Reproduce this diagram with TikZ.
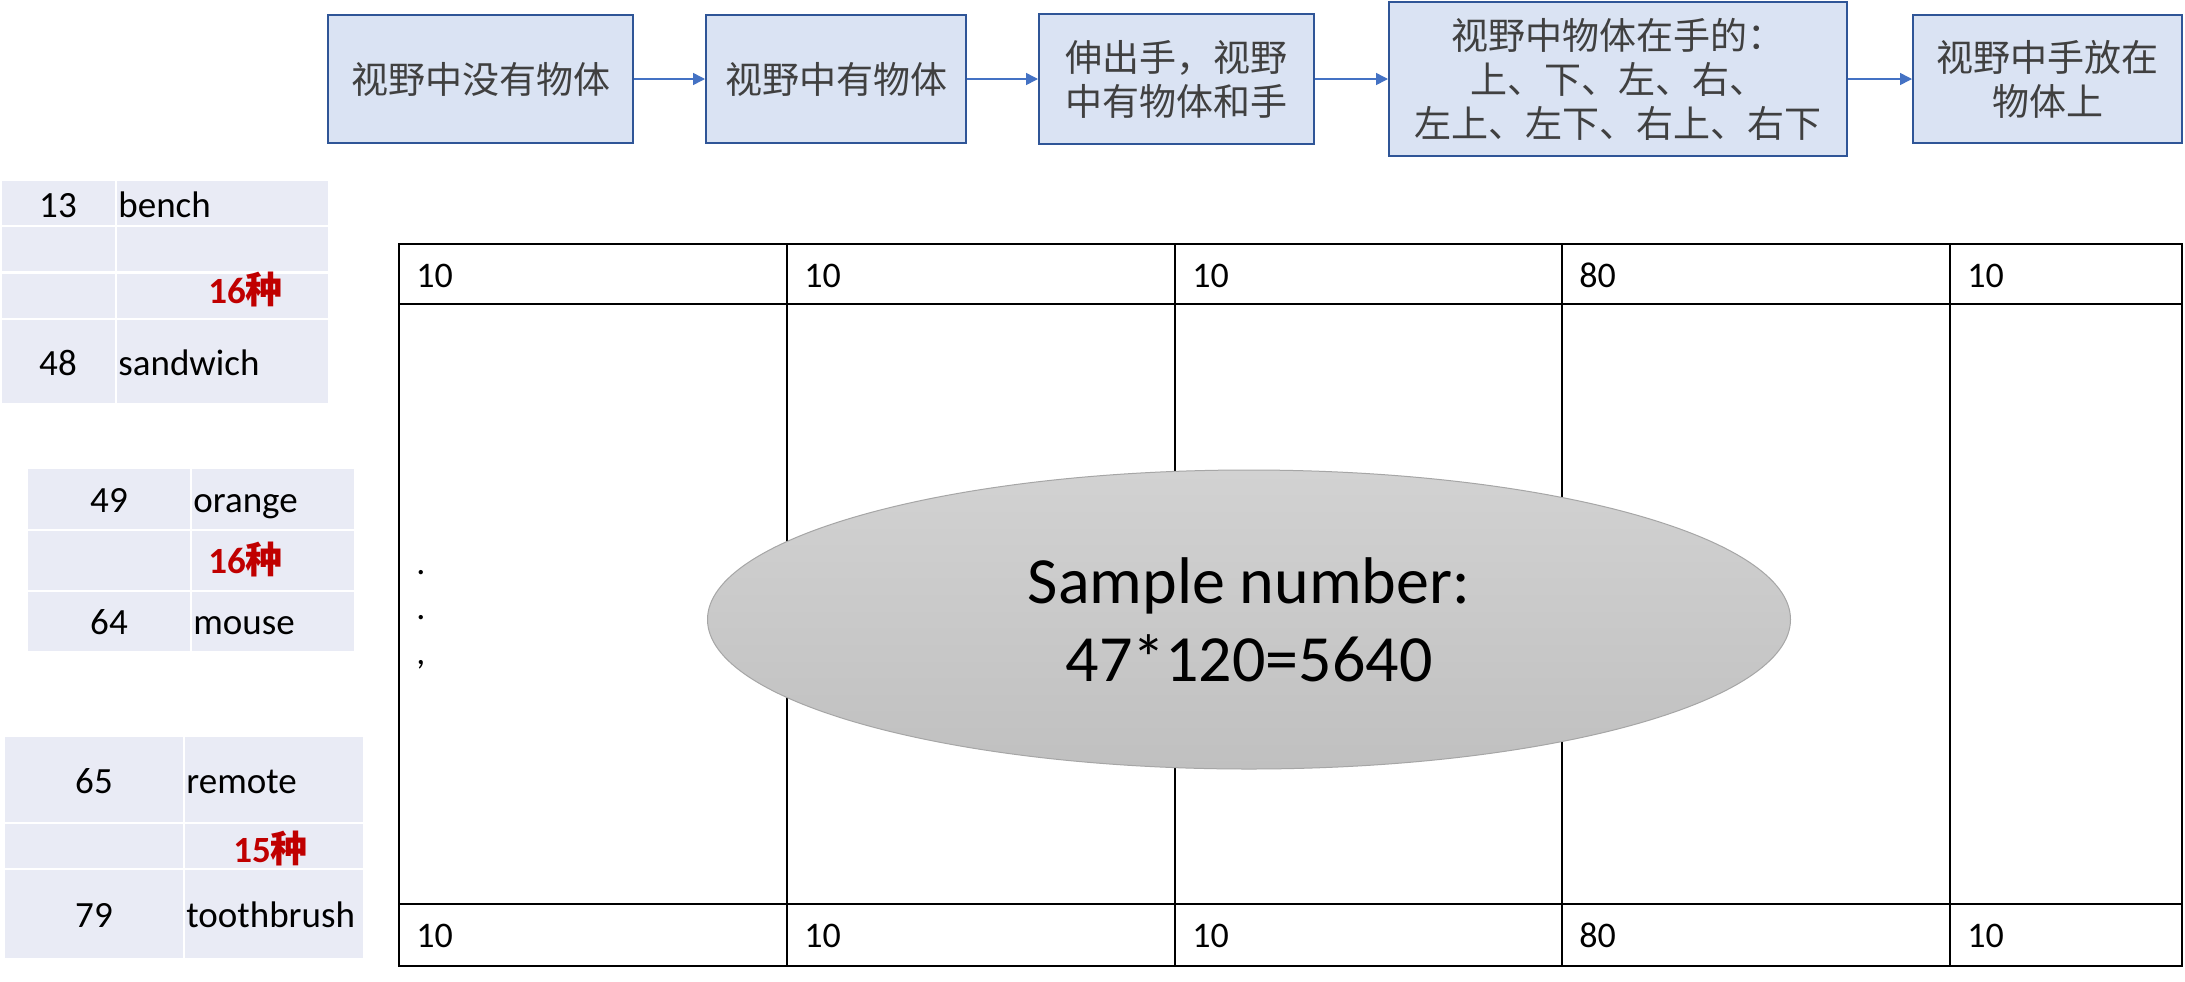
\documentclass[tikz,border=0pt]{standalone}
\usepackage{fontspec}
\setmainfont{Carlito}
\newfontfamily\cjk{Noto Sans CJK SC}
\usetikzlibrary{arrows.meta,shapes.geometric}
\definecolor{boxfill}{HTML}{DAE3F3}
\definecolor{boxdraw}{HTML}{2F5597}
\definecolor{arrowblue}{HTML}{4472C4}
\definecolor{cellfill}{HTML}{E9EBF5}
\definecolor{redtxt}{HTML}{C00000}
\definecolor{boxtxt}{HTML}{404040}
\definecolor{ellborder}{HTML}{A6A6A6}
\definecolor{elltop}{HTML}{D2D2D2}
\definecolor{ellbot}{HTML}{C0C0C0}
\begin{document}
\begin{tikzpicture}[x=0.5pt,y=-0.5pt,
  flowbox/.style={draw=boxdraw, line width=1pt, fill=boxfill, inner sep=0pt,
    align=center, text=boxtxt, font=\cjk\fontsize{18.5pt}{22pt}\selectfont},
  flowarrow/.style={draw=arrowblue, line width=0.75pt, -{Triangle[length=6pt,width=6pt]}},
  celltxt/.style={inner sep=0pt, font=\fontsize{18.5pt}{22pt}\selectfont},
  count/.style={inner sep=0pt, text=redtxt, font=\bfseries\fontsize{18.5pt}{22pt}\selectfont},
  tabtxt/.style={inner sep=0pt, anchor=base west, font=\fontsize{18pt}{22pt}\selectfont},
  grid/.style={draw=black, line width=1pt},
  samplebox/.style={ellipse, inner sep=0pt, draw=ellborder, line width=0.5pt,
    top color=elltop, bottom color=ellbot, align=center,
    font=\fontsize{33pt}{39pt}\selectfont}
]
\useasboundingbox (0,0) rectangle (2185,981);
\fill[white] (0,0) rectangle (2185,981);

% ---- flow boxes ----
\node[flowbox, minimum width=305*0.5pt, minimum height=128*0.5pt] (b1) at (480.5,79) {视野中没有物体};
\node[flowbox, minimum width=260*0.5pt, minimum height=128*0.5pt] (b2) at (836,79) {视野中有物体};
\node[flowbox, minimum width=275*0.5pt, minimum height=130*0.5pt] (b3) at (1176.5,79) {伸出手，视野\\中有物体和手};
\node[flowbox, minimum width=458*0.5pt, minimum height=154*0.5pt] (b4) at (1618,79) {视野中物体在手的：\\上、下、左、右、\\左上、左下、右上、右下};
\node[flowbox, minimum width=269*0.5pt, minimum height=128*0.5pt] (b5) at (2047.5,79) {视野中手放在\\物体上};
\draw[flowarrow] (b1.east) -- (b2.west);
\draw[flowarrow] (b2.east) -- (b3.west);
\draw[flowarrow] (b3.east) -- (b4.west);
\draw[flowarrow] (b4.east) -- (b5.west);

% ---- left tables ----
\foreach \ya/\yb in {181/225,227/271,274/318,320/403}{
  \fill[cellfill] (2,\ya) rectangle (115,\yb);
  \fill[cellfill] (117,\ya) rectangle (328,\yb);
}
\foreach \ya/\yb in {469/529,531/590,592/651}{
  \fill[cellfill] (28,\ya) rectangle (190,\yb);
  \fill[cellfill] (192,\ya) rectangle (354,\yb);
}
\foreach \ya/\yb in {737/822,824/868,870/958}{
  \fill[cellfill] (5,\ya) rectangle (183,\yb);
  \fill[cellfill] (185,\ya) rectangle (363,\yb);
}
\node[celltxt, anchor=base] (t1a) at (58,217) {13};
\node[celltxt, anchor=base west] (t1b) at (118,217) {bench};
\node[count, anchor=base west] (t1c) at (208,303) {16{\cjk 种}};
\node[celltxt, anchor=base] (t1d) at (58,375) {48};
\node[celltxt, anchor=base west] (t1e) at (118,375) {sandwich};

\node[celltxt, anchor=base] (t2a) at (109,512) {49};
\node[celltxt, anchor=base west] (t2b) at (193,512) {orange};
\node[count, anchor=base west] (t2c) at (208,573) {16{\cjk 种}};
\node[celltxt, anchor=base] (t2d) at (109,634) {64};
\node[celltxt, anchor=base west] (t2e) at (193,634) {mouse};

\node[celltxt, anchor=base] (t3a) at (94,793) {65};
\node[celltxt, anchor=base west] (t3b) at (186,793) {remote};
\node[count, anchor=base west] (t3c) at (233,862) {15{\cjk 种}};
\node[celltxt, anchor=base] (t3d) at (94,927) {79};
\node[celltxt, anchor=base west] (t3e) at (186,927) {toothbrush};

% ---- main table ----
\draw[grid] (399,244) rectangle (2182,966);
\draw[grid] (399,304) -- (2182,304);
\draw[grid] (399,904) -- (2182,904);
\foreach \x in {787,1175,1562,1950}{
  \draw[grid] (\x,244) -- (\x,966);
}
\node[tabtxt] (h1) at (416,287) {10};
\node[tabtxt] (h2) at (804,287) {10};
\node[tabtxt] (h3) at (1192,287) {10};
\node[tabtxt] (h4) at (1579,287) {80};
\node[tabtxt] (h5) at (1967,287) {10};
\node[tabtxt] (f1) at (416,947) {10};
\node[tabtxt] (f2) at (804,947) {10};
\node[tabtxt] (f3) at (1192,947) {10};
\node[tabtxt] (f4) at (1579,947) {80};
\node[tabtxt] (f5) at (1967,947) {10};
\node[tabtxt] (d1) at (416,574) {.};
\node[tabtxt] (d2) at (416,619) {.};
\node[tabtxt] (d3) at (416,664) {,};

% ---- sample ellipse ----
\node[samplebox, minimum width=1083*0.5pt, minimum height=299*0.5pt] (sample) at (1249,619.5) {Sample number:\\47*120=5640};
\end{tikzpicture}
\end{document}
